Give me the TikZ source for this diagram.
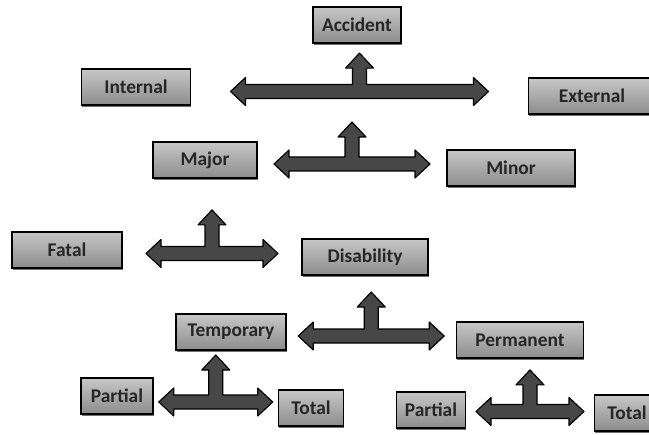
\documentclass[tikz,border=0pt]{standalone}
\usepackage{fontspec}
\setmainfont{Carlito}
\usepackage{tikz}
\usetikzlibrary{calc,shadows}

\tikzset{
  tag/.style={draw=black, line width=1.2pt, minimum height=0.9cm, inner sep=0pt,
    top color=black!22, bottom color=black!45,
    drop shadow={shadow xshift=0.6pt, shadow yshift=-1.4pt, fill=black!70, opacity=0.8},
    font=\fontsize{13.8}{16}\selectfont\bfseries, text=black!85},
  forkarrow/.style={draw=black, line width=0.8pt, fill=black!72, line join=round}
}

% T-shaped block arrow between two nodes: #3 half span, #4 height of the upward arrow
\newcommand{\fork}[4]{%
  \coordinate (#1-#2) at ($(#1.east)!0.5!(#2.west)$);
  \begin{scope}[shift={(#1-#2)}]
    \filldraw[forkarrow] (-#3,0) -- ({-#3+0.375},0.35) -- ({-#3+0.375},0.175)
      -- (-0.175,0.175) -- (-0.175,{#4-0.375}) -- (-0.35,{#4-0.375}) -- (0,#4)
      -- (0.35,{#4-0.375}) -- (0.175,{#4-0.375}) -- (0.175,0.175)
      -- ({#3-0.375},0.175) -- ({#3-0.375},0.35) -- (#3,0) -- ({#3-0.375},-0.35)
      -- ({#3-0.375},-0.175) -- ({-#3+0.375},-0.175) -- ({-#3+0.375},-0.35) -- cycle;
  \end{scope}}

\begin{document}
\begin{tikzpicture}

    \useasboundingbox (0,0) rectangle (16.225,10.85);
    \clip (0,0) rectangle (16.225,10.85);

    % Accident and its two splits
    \node[tag, minimum width=2.2cm] (accident) at (8.925,10.225) {Accident};
    \node[tag, minimum width=2.725cm] (internal) at (3.4,8.675) {Internal};
    \node[tag, minimum width=3.175cm] (external) at (14.8,8.45) {External};
    \node[tag, minimum width=2.6cm] (major) at (5.125,6.85) {Major};
    \node[tag, minimum width=3.2cm] (minor) at (12.775,6.65) {Minor};

    % Major
    \node[tag, minimum width=2.75cm] (fatal) at (1.675,4.6) {Fatal};
    \node[tag, minimum width=3.15cm] (disability) at (9.125,4.425) {Disability};

    % Disability
    \node[tag, minimum width=2.75cm] (temporary) at (5.775,2.55) {Temporary};
    \node[tag, minimum width=3.175cm] (permanent) at (13.0,2.35) {Permanent};

    % Temporary / Permanent
    \node[tag, minimum width=1.8cm] (partialT) at (2.925,0.95) {Partial};
    \node[tag, minimum width=1.625cm] (totalT) at (7.775,0.65) {Total};
    \node[tag, minimum width=1.725cm] (partialP) at (10.775,0.6) {Partial};
    \node[tag, minimum width=1.625cm] (totalP) at (15.675,0.525) {Total};

    % arrows
    \fork{internal}{external}{3.225}{0.96}
    \fork{major}{minor}{1.95}{1.05}
    \fork{fatal}{disability}{1.65}{1.09}
    \fork{temporary}{permanent}{1.825}{1.1}
    \fork{partialT}{totalT}{1.425}{1.175}
    \fork{partialP}{totalP}{1.35}{1.04}
\end{tikzpicture}
\end{document}
